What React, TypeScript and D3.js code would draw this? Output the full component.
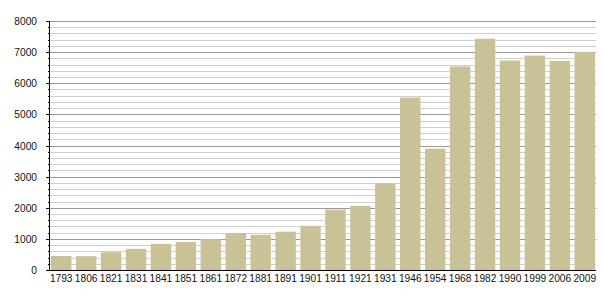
import React from "react";
import * as d3 from "d3";

const years = ["1793","1806","1821","1831","1841","1851","1861","1872","1881","1891","1901","1911","1921","1931","1946","1954","1968","1982","1990","1999","2006","2009"];
const population = [450,445,570,680,840,900,990,1190,1130,1230,1420,1940,2060,2780,5540,3900,6540,7430,6730,6890,6720,7010];
const majorTicks = [0,1000,2000,3000,4000,5000,6000,7000,8000];

const W = 605, H = 300;
const m = { left: 50, right: 9, top: 21, bottom: 30 };

export default function App() {
  const x = d3.scaleBand<string>().domain(years).range([m.left, W - m.right]).paddingInner(0.18).paddingOuter(0.04);
  const y = d3.scaleLinear().domain([0, 8000]).range([H - m.bottom, m.top]);
  const minorTicks = d3.range(0, 8001, 200).filter((v) => v % 1000 !== 0);
  const x0 = m.left, x1 = W - m.right;
  return (
    <svg width={W} height={H} style={{ position: "absolute", left: 0, top: 0 }} fontFamily="'Liberation Sans', Arial, sans-serif">
      <rect width={W} height={H} fill="#fff" />
      {minorTicks.map((v) => (
        <g key={"mi" + v}>
          <line x1={x0} x2={x1} y1={Math.round(y(v)) + 0.5} y2={Math.round(y(v)) + 0.5} stroke="#cfcfcf" strokeWidth={1} />
          <line x1={x0 - 2} x2={x0} y1={Math.round(y(v)) + 0.5} y2={Math.round(y(v)) + 0.5} stroke="#000" strokeWidth={1} />
        </g>
      ))}
      {majorTicks.map((v) => (
        <g key={"ma" + v}>
          {v > 0 && <line x1={x0} x2={x1} y1={Math.round(y(v)) + 0.5} y2={Math.round(y(v)) + 0.5} stroke="#999" strokeWidth={1} />}
          <line x1={x0 - 4} x2={x0} y1={Math.round(y(v)) + 0.5} y2={Math.round(y(v)) + 0.5} stroke="#000" strokeWidth={1} />
          <text x={37} y={y(v) + 4} fontSize={10.2} textAnchor="end" fill="#111">{v}</text>
        </g>
      ))}
      {years.map((yr, i) => (
        <rect key={yr} x={x(yr)} width={x.bandwidth()} y={y(population[i])} height={y(0) - y(population[i])} fill="#cbc197" />
      ))}
      <line x1={x0 - 0.5} x2={x0 - 0.5} y1={m.top} y2={y(0)} stroke="#000" strokeWidth={1} />
      <line x1={x0} x2={x1} y1={y(0) + 0.5} y2={y(0) + 0.5} stroke="#000" strokeWidth={1} />
      {years.map((yr) => (
        <text key={"t" + yr} x={(x(yr) as number) + x.bandwidth() / 2} y={H - m.bottom + 12} fontSize={10.2} textAnchor="middle" fill="#111">{yr}</text>
      ))}
    </svg>
  );
}
